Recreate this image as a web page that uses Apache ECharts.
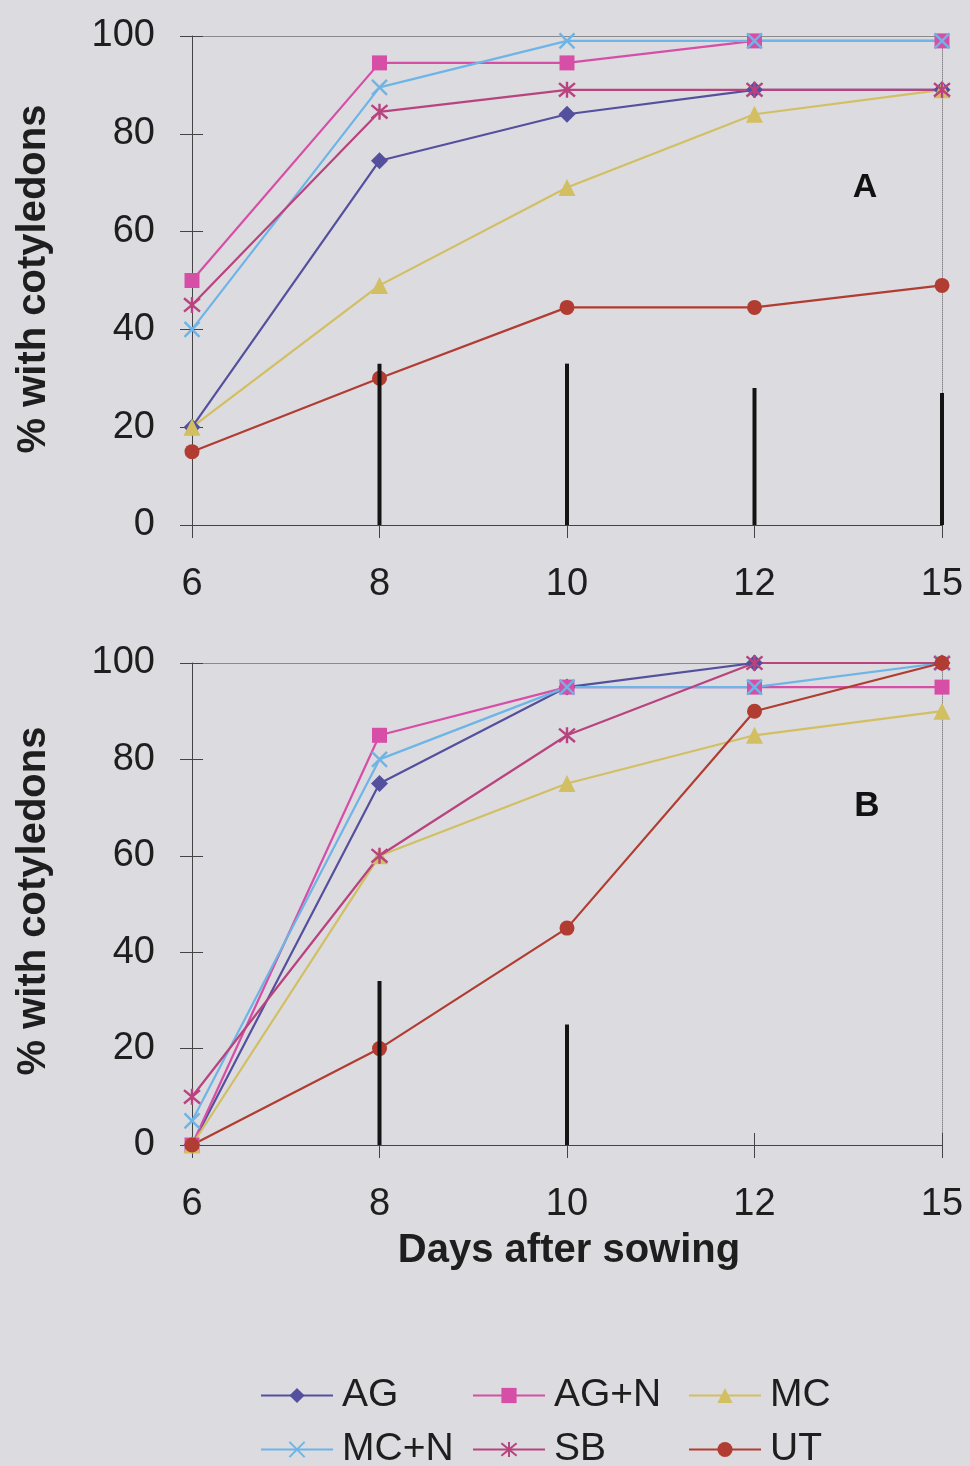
<!DOCTYPE html>
<html>
<head>
<meta charset="utf-8">
<script src="https://cdn.jsdelivr.net/npm/echarts@6/dist/echarts.min.js"></script>
<style>
html,body{margin:0;padding:0;background:#dcdbe0;}
#c{width:970px;height:1466px;}
</style>
</head>
<body>
<div id="c"></div>
<script>
// ---- data ----
const days = ['6', '8', '10', '12', '15'];
const yTicks = [0, 20, 40, 60, 80, 100];
const seriesNames = ['AG', 'AG+N', 'MC', 'MC+N', 'SB', 'UT'];

// Panel A
const A_AG   = [20, 74.5, 84, 89, 89];
const A_AGN  = [50, 94.5, 94.5, 99, 99];
const A_MC   = [20, 49, 69, 84, 89];
const A_MCN  = [40, 89.5, 99, 99, 99];
const A_SB   = [45, 84.5, 89, 89, 89];
const A_UT   = [15, 30, 44.5, 44.5, 49];
const A_LSD  = ['-', 33, 33, 28, 27];

// Panel B
const B_AG   = [0, 75, 95, 100, 100];
const B_AGN  = [0, 85, 95, 95, 95];
const B_MC   = [0, 60, 75, 85, 90];
const B_MCN  = [5, 80, 95, 95, 100];
const B_SB   = [10, 60, 85, 100, 100];
const B_UT   = [0, 20, 45, 90, 100];
const B_LSD  = ['-', 34, 25, '-', '-'];

// ---- styles ----
const FONT = '"Liberation Sans", Arial, sans-serif';
const styles = {
  'AG':   {color: '#54509e', symbol: 'diamond', size: 17},
  'AG+N': {color: '#d64ea6', symbol: 'rect', size: 15},
  'MC':   {color: '#d2bf62', symbol: 'triangle', size: 17},
  'MC+N': {color: '#6db5e6', symbol: 'path://M0,0L10,10M10,0L0,10', size: 15, stroke: true},
  'SB':   {color: '#b8437f', symbol: 'path://M0,0L10,10M10,0L0,10M5,-1L5,11', size: 16, stroke: true},
  'UT':   {color: '#b13c31', symbol: 'circle', size: 15}
};

function lineSeries(name, data, gi) {
  const s = styles[name];
  return {
    name: name, type: 'line', data: data,
    xAxisIndex: gi * 3, yAxisIndex: gi * 3,
    symbol: s.symbol, symbolSize: s.size,
    color: s.color,
    lineStyle: {color: s.color, width: 2.2},
    itemStyle: {color: s.color, borderColor: s.color, borderWidth: s.stroke ? 2.4 : 0, opacity: 1},
    emphasis: {disabled: true},
    animation: false, z: 3
  };
}
function barSeries(data, gi) {
  return {
    type: 'bar', data: data, xAxisIndex: gi * 3, yAxisIndex: gi * 3,
    barWidth: 4, itemStyle: {color: '#141414'}, animation: false, z: 4,
    silent: true
  };
}

const grids = [
  {left: 192, top: 36, width: 750, height: 489},
  {left: 192, top: 663, width: 750, height: 482}
];

const xAxes = [], yAxes = [];
grids.forEach(function (g, gi) {
  xAxes.push({
    gridIndex: gi, type: 'category', data: days, boundaryGap: false, position: 'bottom',
    axisLine: {onZero: false, lineStyle: {color: '#444', width: 1}},
    axisTick: {show: true, inside: false, length: 13, lineStyle: {color: '#444'}},
    axisLabel: {fontSize: 38, color: '#1e1e1e', fontFamily: FONT, margin: 41},
    splitLine: {show: false}
  });
  xAxes.push({
    gridIndex: gi, type: 'category', data: days, boundaryGap: false, position: 'bottom',
    axisLine: {show: false, onZero: false},
    axisTick: {show: true, inside: true, length: 12, lineStyle: {color: '#444'}},
    axisLabel: {show: false}, splitLine: {show: false}
  });
  xAxes.push({
    gridIndex: gi, type: 'category', data: days, boundaryGap: false, position: 'top',
    axisLine: {onZero: false, lineStyle: {color: '#8a8a8e', width: 1}},
    axisTick: {show: false}, axisLabel: {show: false}, splitLine: {show: false}
  });
  yAxes.push({
    gridIndex: gi, type: 'value', min: 0, max: 100, interval: 20, position: 'left',
    axisLine: {show: true, onZero: false, lineStyle: {color: '#444', width: 1}},
    axisTick: {show: true, inside: false, length: 12, lineStyle: {color: '#444'}},
    axisLabel: {fontSize: 38, color: '#1e1e1e', fontFamily: FONT, margin: 37,
      formatter: function (v) { return yTicks.indexOf(v) >= 0 ? String(v) : ''; }},
    splitLine: {show: false}
  });
  yAxes.push({
    gridIndex: gi, type: 'value', min: 0, max: 100, interval: 20, position: 'left',
    axisLine: {show: false, onZero: false},
    axisTick: {show: true, inside: true, length: 11, lineStyle: {color: '#444'}},
    axisLabel: {show: false}, splitLine: {show: false}
  });
  yAxes.push({
    gridIndex: gi, type: 'value', min: 0, max: 100, interval: 20, position: 'right',
    axisLine: {show: true, onZero: false, lineStyle: {color: '#8a8a8e', width: 1, type: 'dotted'}},
    axisTick: {show: false}, axisLabel: {show: false}, splitLine: {show: false}
  });
});

const series = [
  lineSeries('AG', A_AG, 0), lineSeries('AG+N', A_AGN, 0), lineSeries('MC', A_MC, 0),
  lineSeries('MC+N', A_MCN, 0), lineSeries('SB', A_SB, 0), lineSeries('UT', A_UT, 0),
  barSeries(A_LSD, 0),
  lineSeries('AG', B_AG, 1), lineSeries('AG+N', B_AGN, 1), lineSeries('MC', B_MC, 1),
  lineSeries('MC+N', B_MCN, 1), lineSeries('SB', B_SB, 1), lineSeries('UT', B_UT, 1),
  barSeries(B_LSD, 1)
];

// legend: 3 columns x 2 rows, one legend component per entry
const legendLefts = [260, 472, 688];
const legendTops = [1376, 1430];
const legends = seriesNames.map(function (n, i) {
  const col = i % 3, row = Math.floor(i / 3);
  return {
    left: legendLefts[col], top: legendTops[row], padding: 0,
    itemWidth: 72, itemHeight: 19, selectedMode: false, data: [n],
    textStyle: {fontSize: 39, color: '#1e1e1e', fontFamily: FONT, lineHeight: 36, padding: [0, 0, 0, 4]}
  };
});

const titleFont = 'bold 40px ' + FONT;
const option = {
  backgroundColor: '#dcdbe0',
  animation: false,
  grid: grids,
  xAxis: xAxes,
  yAxis: yAxes,
  legend: legends,
  graphic: [
    {type: 'text', x: 34, y: 279, rotation: Math.PI / 2,
      style: {text: '% with cotyledons', font: titleFont, fill: '#1e1e1e', align: 'center', verticalAlign: 'middle'}},
    {type: 'text', x: 34, y: 901, rotation: Math.PI / 2,
      style: {text: '% with cotyledons', font: titleFont, fill: '#1e1e1e', align: 'center', verticalAlign: 'middle'}},
    {type: 'text', x: 569, y: 1251,
      style: {text: 'Days after sowing', font: 'bold 40px ' + FONT, fill: '#1e1e1e', align: 'center', verticalAlign: 'middle'}},
    {type: 'text', x: 865, y: 188,
      style: {text: 'A', font: 'bold 34px ' + FONT, fill: '#111', align: 'center', verticalAlign: 'middle'}},
    {type: 'text', x: 867, y: 806,
      style: {text: 'B', font: 'bold 35px ' + FONT, fill: '#111', align: 'center', verticalAlign: 'middle'}}
  ],
  series: series
};

const chart = echarts.init(document.getElementById('c'), null, {renderer: 'canvas'});
chart.setOption(option);
</script>
</body>
</html>
